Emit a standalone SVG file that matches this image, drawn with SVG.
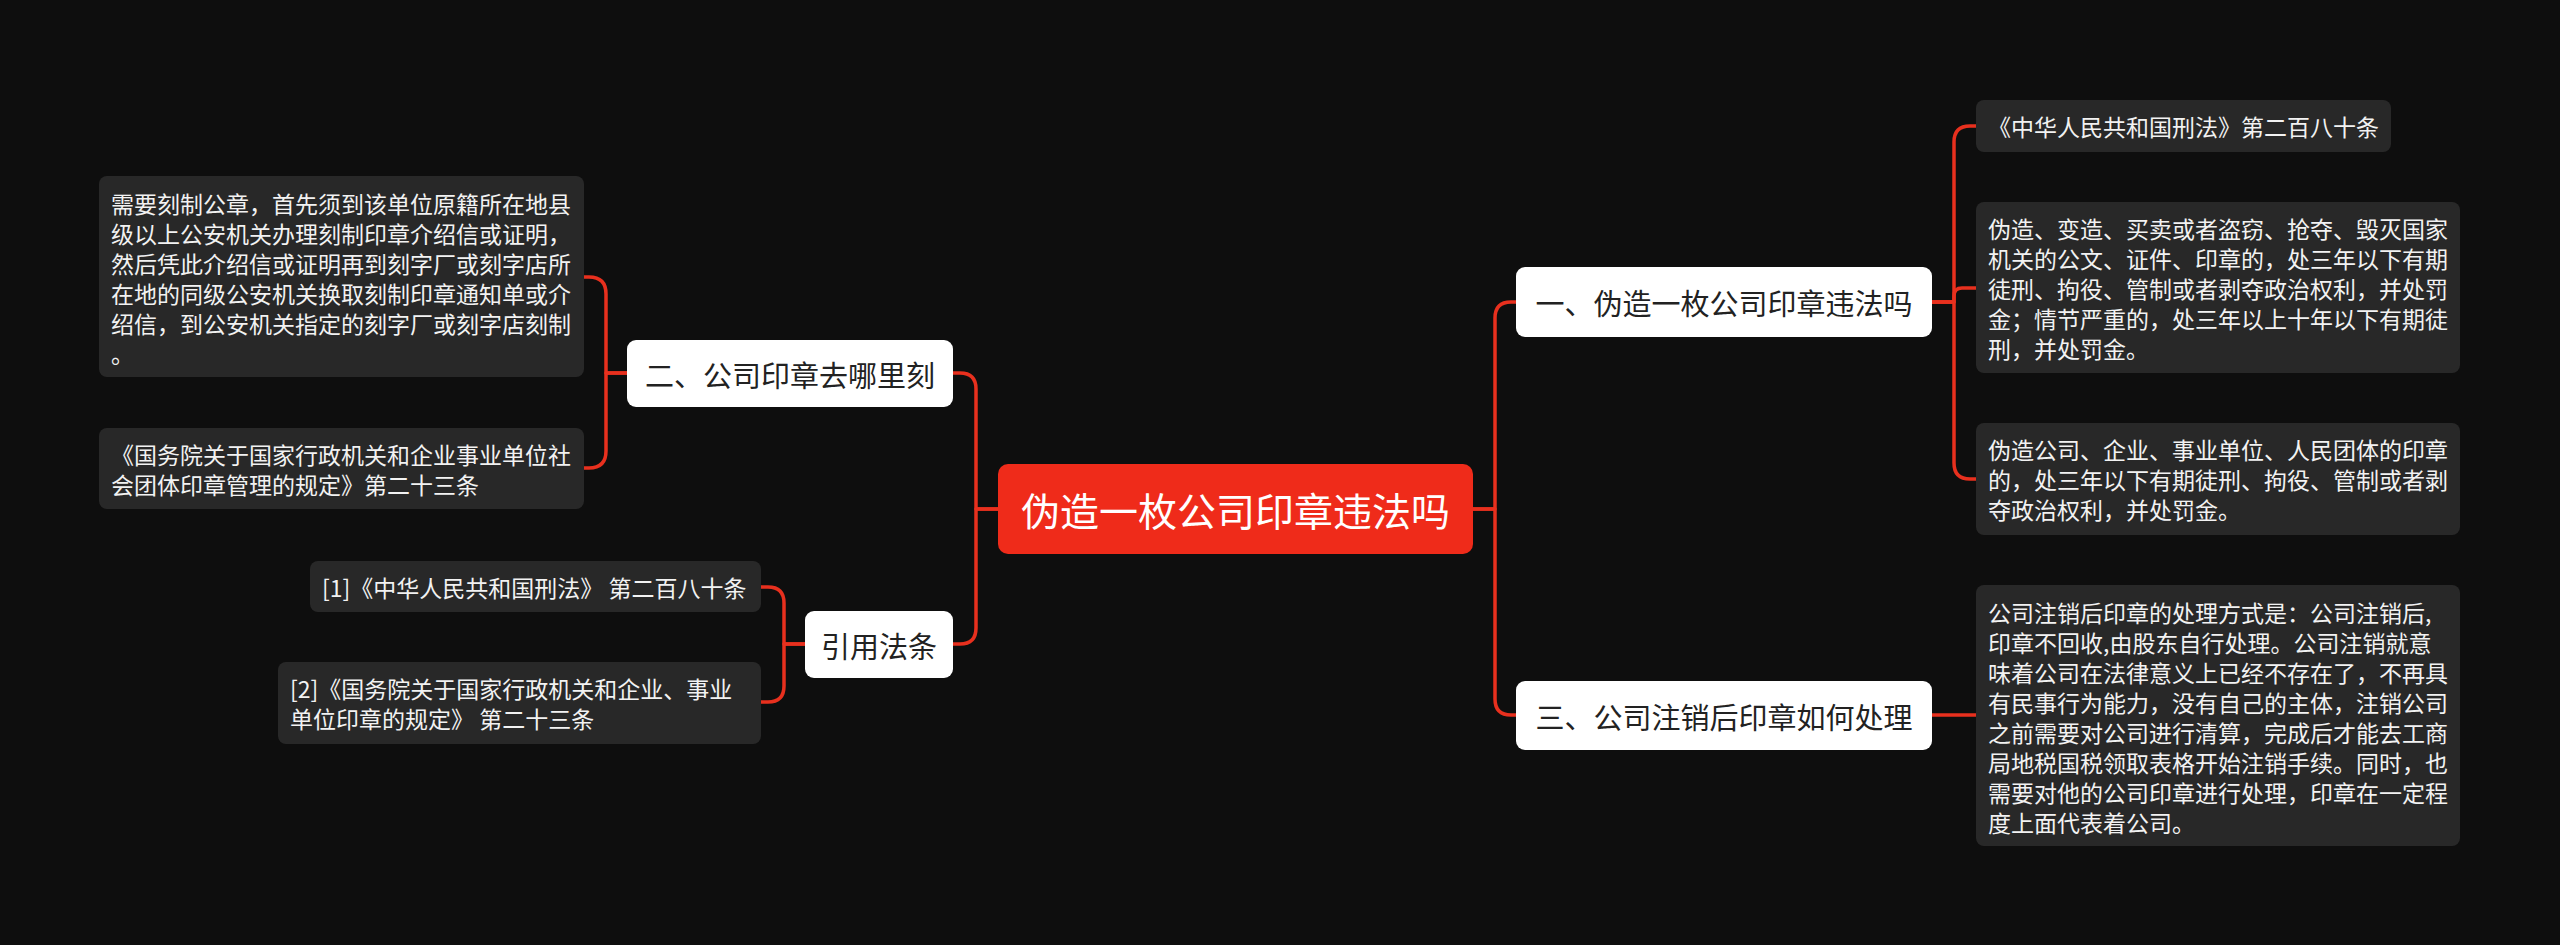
<svg xmlns="http://www.w3.org/2000/svg" width="2560" height="945" viewBox="0 0 2560 945">
<style>
.bg{fill:#0e0e0e}
.root{fill:#ef2b1a}
.main{fill:#ffffff}
.leaf{fill:#282828}
text{font-family:"Noto Sans CJK SC","Noto Sans",sans-serif;dominant-baseline:central}
.rt{fill:#ffffff;font-size:39px}
.mt{fill:#222222;font-size:29px}
.lt{fill:#f2f2f2;font-size:23px}
.conn path{fill:none;stroke:#e8301e;stroke-width:3.5;stroke-linejoin:round}
</style>
<rect class="bg" x="0" y="0" width="2560" height="945"/>
<g class="conn" id="connectors">
<path d="M1473,509 H1495 V318 Q1495,302 1511,302 H1516"/>
<path d="M1473,509 H1495 V699 Q1495,715 1511,715 H1516"/>
<path d="M998,509 H976 V389 Q976,373 960,373 H953"/>
<path d="M998,509 H976 V628 Q976,644 960,644 H953"/>
<path d="M627,373 H606 V294 Q606,277 589,277 H584"/>
<path d="M627,373 H606 V451 Q606,468 589,468 H584"/>
<path d="M805,644 H784 V603 Q784,587 768,587 H761"/>
<path d="M805,644 H784 V686 Q784,702 768,702 H761"/>
<path d="M1932,302 H1954 V142 Q1954,126 1970,126 H1976"/>
<path d="M1932,302 H1954 V296 Q1954,288 1962,288 H1976"/>
<path d="M1932,302 H1954 V463 Q1954,479 1970,479 H1976"/>
<path d="M1932,715 H1976"/>
</g>
<g id="root">
<rect class="root" x="998" y="464" width="475" height="90" rx="10"/>
<text class="rt" x="1235.5" y="509" text-anchor="middle">伪造一枚公司印章违法吗</text>
</g>
<g id="n1">
<rect class="main" x="1516" y="267" width="416" height="70" rx="9"/>
<text class="mt" x="1724" y="302" text-anchor="middle">一、伪造一枚公司印章违法吗</text>
</g>
<g id="n3">
<rect class="main" x="1516" y="681" width="416" height="69" rx="9"/>
<text class="mt" x="1724" y="715.5" text-anchor="middle">三、公司注销后印章如何处理</text>
</g>
<g id="n2">
<rect class="main" x="627" y="340" width="326" height="67" rx="9"/>
<text class="mt" x="790" y="373.5" text-anchor="middle">二、公司印章去哪里刻</text>
</g>
<g id="n4">
<rect class="main" x="805" y="611" width="148" height="67" rx="9"/>
<text class="mt" x="879" y="644.5" text-anchor="middle">引用法条</text>
</g>
<g id="a1">
<rect class="leaf" x="1976" y="100" width="415" height="52" rx="8"/>
<text class="lt" x="1988" y="126">《中华人民共和国刑法》第二百八十条</text>
</g>
<g id="a2">
<rect class="leaf" x="1976" y="202" width="484" height="171" rx="8"/>
<text class="lt" x="1988" y="228">伪造、变造、买卖或者盗窃、抢夺、毁灭国家</text>
<text class="lt" x="1988" y="258">机关的公文、证件、印章的，处三年以下有期</text>
<text class="lt" x="1988" y="288">徒刑、拘役、管制或者剥夺政治权利，并处罚</text>
<text class="lt" x="1988" y="318">金；情节严重的，处三年以上十年以下有期徒</text>
<text class="lt" x="1988" y="348">刑，并处罚金。</text>
</g>
<g id="a3">
<rect class="leaf" x="1976" y="423" width="484" height="112" rx="8"/>
<text class="lt" x="1988" y="449">伪造公司、企业、事业单位、人民团体的印章</text>
<text class="lt" x="1988" y="479">的，处三年以下有期徒刑、拘役、管制或者剥</text>
<text class="lt" x="1988" y="509">夺政治权利，并处罚金。</text>
</g>
<g id="c1">
<rect class="leaf" x="1976" y="585" width="484" height="261" rx="8"/>
<text class="lt" x="1988" y="611.5">公司注销后印章的处理方式是：公司注销后,</text>
<text class="lt" x="1988" y="641.5">印章不回收,由股东自行处理。公司注销就意</text>
<text class="lt" x="1988" y="671.5">味着公司在法律意义上已经不存在了，不再具</text>
<text class="lt" x="1988" y="701.5">有民事行为能力，没有自己的主体，注销公司</text>
<text class="lt" x="1988" y="731.5">之前需要对公司进行清算，完成后才能去工商</text>
<text class="lt" x="1988" y="761.5">局地税国税领取表格开始注销手续。同时，也</text>
<text class="lt" x="1988" y="791.5">需要对他的公司印章进行处理，印章在一定程</text>
<text class="lt" x="1988" y="821.5">度上面代表着公司。</text>
</g>
<g id="b1">
<rect class="leaf" x="99" y="176" width="485" height="201" rx="8"/>
<text class="lt" x="111" y="203">需要刻制公章，首先须到该单位原籍所在地县</text>
<text class="lt" x="111" y="233">级以上公安机关办理刻制印章介绍信或证明，</text>
<text class="lt" x="111" y="263">然后凭此介绍信或证明再到刻字厂或刻字店所</text>
<text class="lt" x="111" y="293">在地的同级公安机关换取刻制印章通知单或介</text>
<text class="lt" x="111" y="323">绍信，到公安机关指定的刻字厂或刻字店刻制</text>
<text class="lt" x="111" y="353">。</text>
</g>
<g id="b2">
<rect class="leaf" x="99" y="428" width="485" height="81" rx="8"/>
<text class="lt" x="111" y="454">《国务院关于国家行政机关和企业事业单位社</text>
<text class="lt" x="111" y="484">会团体印章管理的规定》第二十三条</text>
</g>
<g id="d1">
<rect class="leaf" x="310" y="561" width="451" height="51" rx="8"/>
<text class="lt" x="322" y="586.5">[1]《中华人民共和国刑法》 第二百八十条</text>
</g>
<g id="d2">
<rect class="leaf" x="278" y="662" width="483" height="82" rx="8"/>
<text class="lt" x="290" y="688">[2]《国务院关于国家行政机关和企业、事业</text>
<text class="lt" x="290" y="718">单位印章的规定》 第二十三条</text>
</g>
</svg>
